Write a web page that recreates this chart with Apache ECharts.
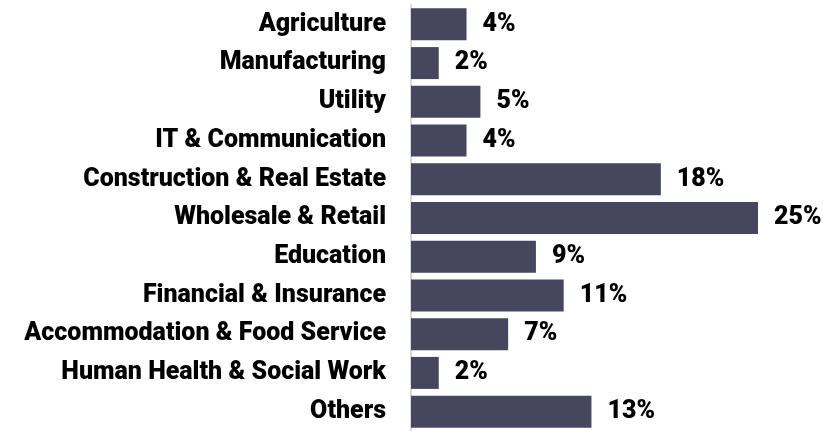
<!DOCTYPE html>
<html>
<head>
<meta charset="utf-8">
<script src="https://cdn.jsdelivr.net/npm/echarts@6/dist/echarts.min.js"></script>
<style>
  html, body { margin: 0; padding: 0; background: #ffffff; }
  #chart { width: 823px; height: 431px; }
</style>
</head>
<body>
<div id="chart"></div>
<script>
// Sectors, listed top to bottom
const sectors = [
  'Agriculture',
  'Manufacturing',
  'Utility',
  'IT & Communication',
  'Construction & Real Estate',
  'Wholesale & Retail',
  'Education',
  'Financial & Insurance',
  'Accommodation & Food Service',
  'Human Health & Social Work',
  'Others'
];

// Share of each sector, in percent
const shares = [4, 2, 5, 4, 18, 25, 9, 11, 7, 2, 13];

const chart = echarts.init(document.getElementById('chart'));

chart.setOption({
  animation: false,
  grid: { left: 411, top: 5, width: 347, height: 431 },
  xAxis: {
    type: 'value',
    min: 0,
    max: 25,
    show: false
  },
  yAxis: {
    type: 'category',
    data: sectors,
    inverse: true,
    axisLine: { show: true, lineStyle: { color: '#d9d9d9', width: 2 } },
    axisTick: { show: false },
    axisLabel: {
      margin: 25,
      color: '#000000',
      fontFamily: 'Roboto',
      fontWeight: 900,
      fontSize: 25
    }
  },
  series: [{
    type: 'bar',
    data: shares,
    barWidth: 32,
    itemStyle: { color: '#46465E' },
    label: {
      show: true,
      position: 'right',
      distance: 16,
      formatter: '{c}%',
      color: '#000000',
      fontFamily: 'Roboto',
      fontWeight: 900,
      fontSize: 25
    }
  }]
});
</script>
</body>
</html>
